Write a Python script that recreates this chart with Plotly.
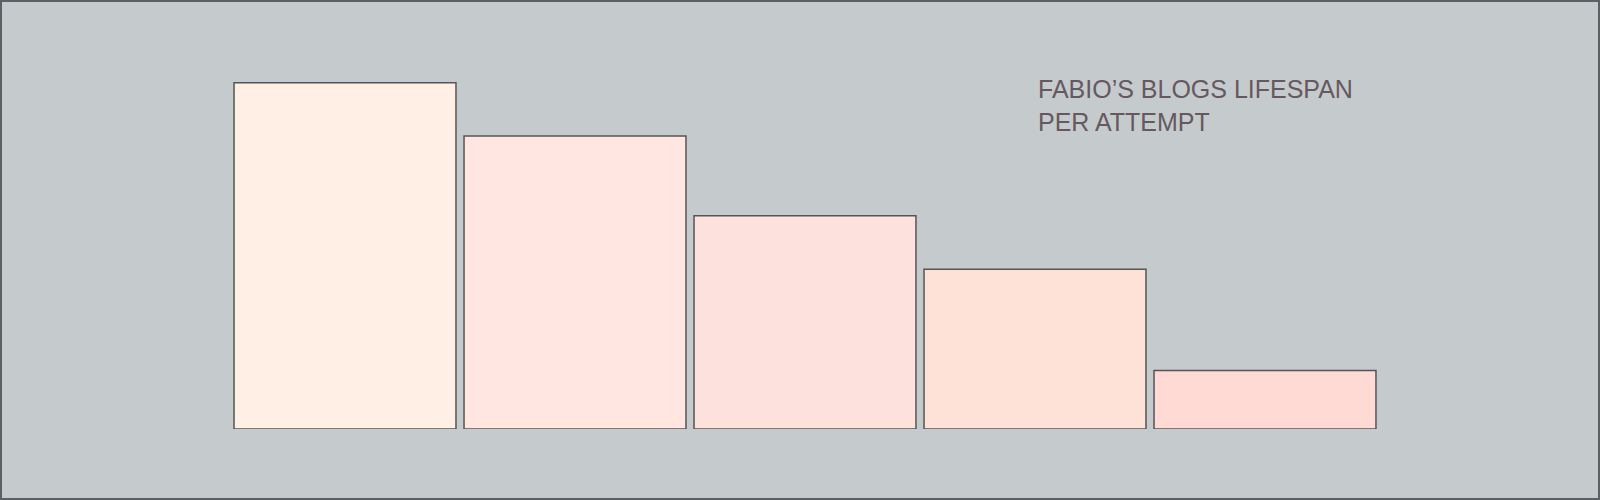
import plotly.graph_objects as go

attempts = ["1", "2", "3", "4", "5"]
lifespan = [6.5, 5.5, 4.0, 3.0, 1.1]
bar_colors = ["#FFEFE5", "#FFE6E0", "#FDE1DC", "#FEE2D8", "#FFD9D4"]
title_text = "FABIO\u2019S BLOGS LIFESPAN<br>PER ATTEMPT"

W, H = 1600, 500
ml, mr, mt, mb = 230, 220, 56, 71
pw, ph = W - ml - mr, H - mt - mb

fig = go.Figure(
    go.Bar(
        x=attempts,
        y=lifespan,
        marker=dict(color=bar_colors, line=dict(color="#555555", width=1.5)),
        hoverinfo="skip",
    )
)

fig.update_layout(
    width=W,
    height=H,
    margin=dict(l=ml, r=mr, t=mt, b=mb),
    paper_bgcolor="#C5CACD",
    plot_bgcolor="#C5CACD",
    bargap=0.035,
    showlegend=False,
    xaxis=dict(visible=False, showgrid=False, zeroline=False),
    yaxis=dict(visible=False, showgrid=False, zeroline=False, range=[0, 7]),
    annotations=[
        dict(
            text=title_text,
            xref="paper",
            yref="paper",
            x=(1036 - ml) / pw,
            y=(H - mb - 73) / ph,
            xanchor="left",
            yanchor="top",
            align="left",
            showarrow=False,
            font=dict(family="Liberation Sans, Arial, sans-serif", size=25, color="#65595F"),
        )
    ],
    shapes=[
        dict(
            type="rect",
            xref="paper",
            yref="paper",
            x0=-(ml - 1) / pw,
            x1=1 + (mr - 1) / pw,
            y0=-(mb - 1) / ph,
            y1=1 + (mt - 1) / ph,
            line=dict(color="#5A6063", width=2),
            fillcolor="rgba(0,0,0,0)",
            layer="above",
        )
    ],
)

fig.write_html(
    "out.html",
    config={"displayModeBar": False},
    post_script="document.body.style.margin='0';document.body.style.overflow='hidden';",
)
